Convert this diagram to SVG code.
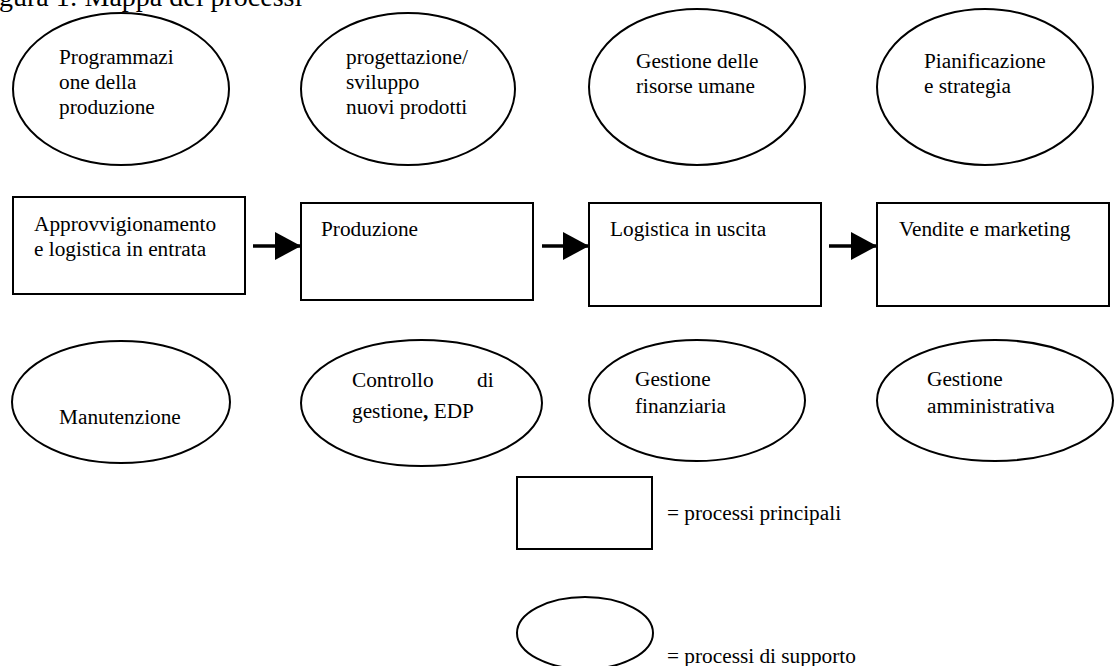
<svg xmlns="http://www.w3.org/2000/svg" width="1116" height="666" viewBox="0 0 1116 666">
<defs>
<style>
.t{font-family:"Liberation Serif","Times New Roman",serif;font-size:21.3px;fill:#000}
.ti{font-family:"Liberation Serif","Times New Roman",serif;font-size:28px;fill:#000}
.s{fill:#fff;stroke:#000;stroke-width:2}
.c{stroke:#000;stroke-width:3.5;fill:none}
</style>
<marker id="ah" markerUnits="userSpaceOnUse" markerWidth="26" markerHeight="28" refX="26" refY="14" orient="auto">
<path d="M0,0 L26,14 L0,28 Z" fill="#000"/>
</marker>
</defs>
<rect width="1116" height="666" fill="#fff"/>
<text class="ti" x="-1" y="6">gura 1: Mappa dei processi</text>

<g id="n-programmazione">
<ellipse class="s" cx="121" cy="89" rx="108" ry="76"/>
<text class="t" x="59" y="64">Programmazi</text>
<text class="t" x="59" y="89">one della</text>
<text class="t" x="59" y="114">produzione</text>
</g>
<g id="n-progettazione">
<ellipse class="s" cx="408" cy="89" rx="107" ry="76"/>
<text class="t" x="346" y="64">progettazione/</text>
<text class="t" x="346" y="89">sviluppo</text>
<text class="t" x="346" y="114">nuovi prodotti</text>
</g>
<g id="n-risorse-umane">
<ellipse class="s" cx="697" cy="87" rx="108" ry="78"/>
<text class="t" x="636" y="68">Gestione delle</text>
<text class="t" x="636" y="93">risorse umane</text>
</g>
<g id="n-pianificazione">
<ellipse class="s" cx="985" cy="87" rx="108" ry="78"/>
<text class="t" x="924" y="68">Pianificazione</text>
<text class="t" x="924" y="93">e strategia</text>
</g>

<g id="n-approvvigionamento">
<rect class="s" x="13" y="197" width="232" height="97"/>
<text class="t" x="34" y="231">Approvvigionamento</text>
<text class="t" x="34" y="256">e logistica in entrata</text>
</g>
<g id="n-produzione">
<rect class="s" x="301" y="203" width="232" height="97"/>
<text class="t" x="321" y="236">Produzione</text>
</g>
<g id="n-logistica-uscita">
<rect class="s" x="589" y="203" width="232" height="103"/>
<text class="t" x="610" y="236">Logistica in uscita</text>
</g>
<g id="n-vendite">
<rect class="s" x="877" y="203" width="232" height="103"/>
<text class="t" x="899" y="236">Vendite e marketing</text>
</g>

<g id="n-manutenzione">
<ellipse class="s" cx="121" cy="402" rx="109" ry="61"/>
<text class="t" x="59" y="424">Manutenzione</text>
</g>
<g id="n-controllo">
<ellipse class="s" cx="421.5" cy="403" rx="120.5" ry="63"/>
<text class="t" x="352" y="387">Controllo</text>
<text class="t" x="477" y="387">di</text>
<text class="t" x="352" y="418">gestione<tspan font-weight="bold">,</tspan> EDP</text>
</g>
<g id="n-finanziaria">
<ellipse class="s" cx="697" cy="400.5" rx="108" ry="60.5"/>
<text class="t" x="635" y="386">Gestione</text>
<text class="t" x="635" y="413">finanziaria</text>
</g>
<g id="n-amministrativa">
<ellipse class="s" cx="995" cy="400.5" rx="118" ry="60.5"/>
<text class="t" x="927" y="386">Gestione</text>
<text class="t" x="927" y="413">amministrativa</text>
</g>

<g id="connectors">
<line class="c" x1="253" y1="246" x2="301" y2="246" marker-end="url(#ah)"/>
<line class="c" x1="542" y1="246" x2="589" y2="246" marker-end="url(#ah)"/>
<line class="c" x1="829" y1="246" x2="877" y2="246" marker-end="url(#ah)"/>
</g>

<g id="legend">
<rect class="s" x="517" y="477" width="135" height="72"/>
<text class="t" x="667" y="520">= processi principali</text>
<ellipse class="s" cx="585" cy="633" rx="68" ry="36"/>
<text class="t" x="667" y="663">= processi di supporto</text>
</g>
</svg>
